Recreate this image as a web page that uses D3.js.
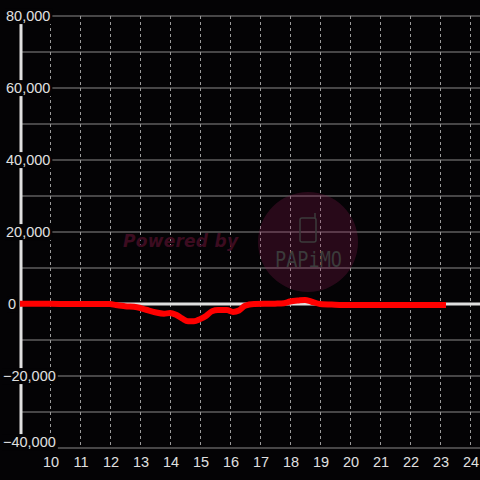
<!DOCTYPE html>
<html>
<head>
<meta charset="utf-8">
<script src="https://cdn.jsdelivr.net/npm/d3@7"></script>
<style>
  html, body { margin: 0; padding: 0; background: #040305; }
  svg { display: block; }
</style>
</head>
<body>
<figure id="chart_view" style="margin:0"></figure>
<script>
// hour of day (decimal) and value
const hours = [9, 10, 11, 12, 12.2, 12.5, 12.9, 13.2, 13.5, 13.8, 14.0, 14.2, 14.4, 14.6, 14.8,
  15.0, 15.2, 15.4, 15.6, 15.9, 16.1, 16.3, 16.5, 16.8, 17.5, 17.8, 18.0, 18.3, 18.5, 18.7,
  19.0, 19.5, 20, 21, 22, 23.2];
const values = [100, 50, 0, 0, -300, -600, -900, -1600, -2300, -2700, -2500, -3000, -4000, -4800, -4800,
  -4200, -3300, -2000, -1700, -1700, -2200, -1800, -500, 0, 100, 200, 700, 1000, 1100, 700,
  0, -200, -300, -300, -300, -300];
const xTicks = [10, 11, 12, 13, 14, 15, 16, 17, 18, 19, 20, 21, 22, 23, 24];
const yTicks = [80000, 60000, 40000, 20000, 0, -20000, -40000];
const yGrid = d3.range(-40000, 80001, 10000);

const width = 480;
const height = 480;

const x = d3.scaleLinear().domain([9, 24]).range([20, 470]);
const y = d3.scaleLinear().domain([-40000, 80000]).range([448, 16]);

const svg = d3.select("figure#chart_view")
  .append("svg")
  .attr("width", width)
  .attr("height", height)
  .attr("viewBox", "0 0 " + width + " " + height);

svg.append("rect").attr("width", width).attr("height", height).attr("fill", "#040305");

// horizontal grid
svg.append("g")
  .selectAll("line")
  .data(yGrid)
  .join("line")
  .attr("x1", 20).attr("x2", width)
  .attr("y1", d => y(d)).attr("y2", d => y(d))
  .attr("stroke", "#8a8a8a").attr("stroke-width", 1);

// vertical dashed grid
svg.append("g")
  .selectAll("line")
  .data(xTicks)
  .join("line")
  .attr("x1", d => x(d) + 0.5).attr("x2", d => x(d) + 0.5)
  .attr("y1", y(80000)).attr("y2", y(-40000))
  .attr("stroke", "#9a9a9a").attr("stroke-width", 1)
  .attr("stroke-dasharray", "3,3");

// watermark
const wm = svg.append("g");
wm.append("circle").attr("cx", 308).attr("cy", 242).attr("r", 50)
  .attr("fill", "#8a1850").attr("fill-opacity", 0.28);
wm.append("text")
  .attr("x", 123).attr("y", 247)
  .attr("font-family", "DejaVu Sans")
  .attr("font-weight", "bold").attr("font-style", "italic")
  .attr("font-size", 17)
  .attr("textLength", 115)
  .attr("fill", "#3c0c20")
  .text("Powered by");
wm.append("rect").attr("x", 300).attr("y", 218).attr("width", 16).attr("height", 24)
  .attr("rx", 2).attr("fill", "none").attr("stroke", "#3b3b3b").attr("stroke-width", 1.5);
wm.append("line").attr("x1", 315).attr("x2", 315).attr("y1", 213).attr("y2", 218)
  .attr("stroke", "#3b3b3b").attr("stroke-width", 1.5);
wm.append("text")
  .attr("x", 275).attr("y", 267)
  .attr("font-family", "DejaVu Sans Mono")
  .attr("font-size", 21)
  .attr("textLength", 67)
  .attr("lengthAdjust", "spacingAndGlyphs")
  .attr("fill", "#3b3b3b")
  .text("PAPiMO");

// y axis line and zero line
svg.append("line").attr("x1", 21).attr("x2", 21).attr("y1", y(80000)).attr("y2", y(-40000))
  .attr("stroke", "#e0e0e0").attr("stroke-width", 3);
svg.append("line").attr("x1", 20).attr("x2", width).attr("y1", y(0)).attr("y2", y(0))
  .attr("stroke", "#e0e0e0").attr("stroke-width", 3);

// y tick labels, left aligned, with black background sized to the text
const fmt = d3.format(",");
const yl = svg.append("g").selectAll("g").data(yTicks).join("g")
  .attr("transform", d => "translate(0," + Math.min(y(d), 442) + ")");
const ylText = yl.append("text")
  .attr("x", d => d < 0 ? 3 : (d === 0 ? 8 : 6))
  .attr("dy", "0.35em")
  .attr("text-anchor", "start")
  .attr("font-family", "Liberation Sans, Arial, sans-serif")
  .attr("font-size", 14.5)
  .attr("fill", "#e0e0e0")
  .text(d => fmt(d));
ylText.each(function () {
  const b = this.getBBox();
  d3.select(this.parentNode).insert("rect", "text")
    .attr("x", b.x - 1).attr("y", b.y)
    .attr("width", b.width + 3).attr("height", b.height)
    .attr("fill", "#040305");
});

// series line
const line = d3.line()
  .x((d, i) => x(hours[i]))
  .y(d => y(d))
  .curve(d3.curveMonotoneX);

svg.append("path")
  .datum(values)
  .attr("d", line)
  .attr("fill", "none")
  .attr("stroke", "#ff0000")
  .attr("stroke-width", 6)
  .attr("stroke-linejoin", "round");

// x tick labels
svg.append("g").selectAll("text").data(xTicks).join("text")
  .attr("x", d => x(d) + 1).attr("y", 467)
  .attr("text-anchor", "middle")
  .attr("font-family", "Liberation Sans, Arial, sans-serif")
  .attr("font-size", 14.5)
  .attr("fill", "#e0e0e0")
  .text(d => d);
</script>
</body>
</html>
